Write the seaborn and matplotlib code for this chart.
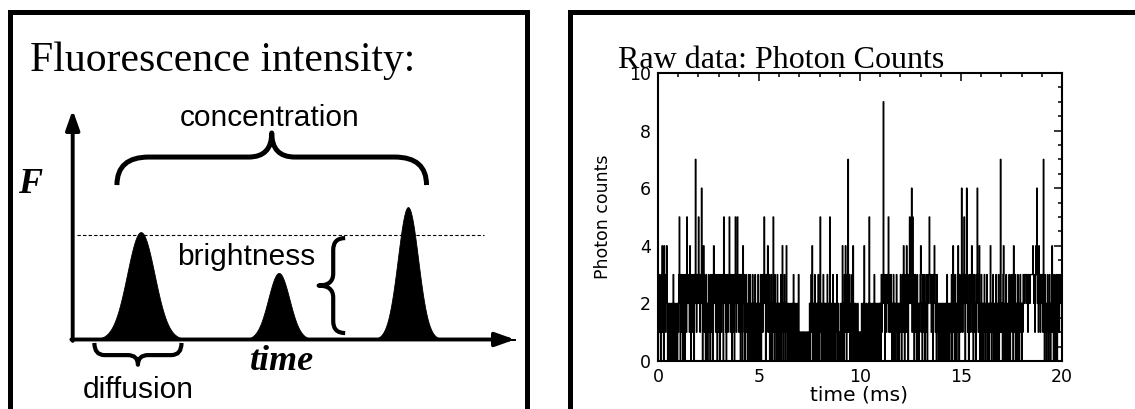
import numpy as np
import matplotlib
matplotlib.use("Agg")
import matplotlib.pyplot as plt
import seaborn as sns
from matplotlib.path import Path
from matplotlib.patches import PathPatch
from matplotlib.ticker import MultipleLocator

# ---------------- data ----------------
# schematic fluorescence bursts (time units, F units)
peak_centers = [1.54, 4.66, 7.58]
peak_heights = [0.468, 0.290, 0.577]
peak_widths = [0.31, 0.24, 0.23]
reference_level = 0.455

# photon counts per 0.025 ms bin, 0-20 ms (one row per half millisecond)
bin_width_ms = 0.025
photon_counts = [
    3, 2, 3, 1, 2, 0, 3, 2, 4, 1, 3, 0, 4, 2, 1, 3, 2, 4, 1, 0,
    2, 0, 1, 2, 0, 1, 0, 2, 1, 0, 3, 1, 0, 2, 1, 0, 1, 2, 0, 2,
    1, 3, 5, 2, 0, 3, 1, 2, 3, 0, 2, 3, 1, 0, 3, 2, 1, 5, 2, 3,
    2, 3, 1, 4, 3, 0, 2, 3, 1, 3, 2, 0, 3, 2, 7, 3, 1, 3, 2, 3,
    5, 2, 3, 1, 3, 2, 6, 3, 0, 2, 4, 3, 1, 2, 0, 3, 1, 2, 0, 1,
    3, 1, 2, 0, 3, 2, 1, 3, 0, 2, 4, 3, 2, 3, 1, 3, 2, 0, 3, 1,
    2, 3, 0, 2, 3, 1, 3, 2, 3, 0, 5, 3, 2, 3, 1, 0, 3, 2, 1, 3,
    2, 5, 3, 1, 2, 3, 0, 3, 2, 1, 3, 0, 2, 5, 3, 1, 2, 5, 3, 2,
    1, 3, 2, 0, 3, 1, 2, 0, 4, 2, 3, 1, 0, 2, 3, 1, 2, 0, 1, 3,
    2, 0, 3, 1, 2, 0, 1, 3, 2, 0, 1, 2, 3, 0, 2, 1, 0, 2, 3, 1,
    0, 2, 1, 3, 0, 2, 3, 1, 2, 3, 5, 2, 3, 0, 1, 3, 2, 4, 1, 2,
    3, 0, 2, 1, 3, 0, 2, 1, 5, 2, 0, 3, 1, 2, 0, 1, 3, 0, 2, 1,
    2, 0, 1, 3, 0, 2, 4, 1, 0, 2, 3, 1, 0, 2, 4, 1, 0, 2, 1, 0,
    1, 2, 0, 1, 0, 2, 1, 0, 3, 1, 0, 2, 1, 0, 1, 2, 0, 1, 3, 0,
    1, 0, 1, 0, 1, 1, 0, 1, 0, 1, 0, 1, 1, 0, 1, 0, 1, 0, 1, 1,
    2, 0, 1, 3, 1, 4, 0, 2, 1, 0, 3, 1, 0, 2, 1, 0, 2, 3, 0, 1,
    2, 5, 1, 0, 2, 1, 0, 3, 1, 2, 0, 1, 2, 0, 1, 3, 0, 2, 1, 0,
    5, 1, 0, 2, 1, 0, 3, 1, 0, 2, 1, 0, 2, 1, 3, 0, 1, 2, 0, 1,
    1, 0, 2, 1, 0, 4, 1, 2, 0, 3, 1, 4, 2, 0, 3, 1, 7, 2, 1, 3,
    0, 1, 2, 0, 3, 1, 4, 0, 2, 1, 0, 2, 1, 0, 1, 2, 0, 1, 0, 1,
    1, 0, 1, 2, 0, 1, 0, 2, 4, 1, 0, 1, 2, 0, 1, 0, 2, 1, 5, 0,
    1, 2, 0, 1, 0, 2, 1, 0, 3, 1, 0, 2, 0, 1, 2, 0, 1, 2, 0, 2,
    2, 0, 3, 1, 2, 3, 9, 2, 3, 0, 2, 3, 1, 2, 3, 2, 5, 1, 3, 2,
    1, 3, 2, 0, 2, 1, 3, 0, 2, 1, 0, 2, 3, 1, 0, 2, 1, 0, 2, 1,
    3, 1, 0, 2, 3, 1, 4, 2, 0, 3, 1, 2, 4, 1, 3, 0, 2, 3, 5, 2,
    3, 2, 6, 1, 5, 2, 3, 0, 2, 3, 1, 2, 0, 3, 1, 2, 0, 1, 2, 3,
    4, 1, 2, 0, 3, 2, 1, 3, 0, 2, 1, 3, 2, 0, 3, 2, 3, 5, 3, 2,
    3, 1, 3, 2, 0, 3, 2, 4, 3, 1, 2, 0, 3, 1, 2, 0, 1, 2, 0, 1,
    2, 0, 1, 2, 0, 1, 2, 0, 1, 2, 0, 1, 3, 2, 0, 1, 2, 0, 1, 2,
    1, 3, 0, 2, 4, 1, 2, 0, 3, 1, 2, 0, 1, 3, 4, 2, 0, 3, 2, 1,
    2, 6, 3, 1, 2, 3, 5, 2, 0, 3, 2, 6, 3, 1, 2, 0, 3, 2, 1, 3,
    2, 4, 1, 3, 0, 2, 3, 1, 2, 0, 3, 2, 6, 3, 1, 2, 4, 0, 2, 1,
    3, 0, 2, 1, 0, 2, 3, 1, 0, 2, 1, 3, 0, 1, 2, 0, 2, 1, 4, 2,
    0, 2, 1, 3, 0, 2, 1, 0, 2, 3, 1, 0, 2, 1, 3, 0, 2, 1, 7, 2,
    1, 2, 0, 3, 4, 1, 0, 2, 1, 3, 0, 2, 1, 0, 2, 3, 1, 0, 2, 3,
    2, 1, 3, 0, 4, 2, 1, 3, 0, 2, 1, 0, 3, 2, 1, 0, 2, 3, 1, 2,
    0, 2, 1, 3, 3, 2, 3, 3, 3, 2, 3, 3, 1, 3, 3, 3, 2, 3, 3, 3,
    3, 3, 4, 3, 2, 3, 1, 3, 4, 3, 6, 2, 3, 1, 4, 2, 3, 1, 2, 3,
    2, 3, 1, 7, 2, 0, 3, 1, 2, 0, 1, 3, 2, 0, 1, 3, 2, 0, 1, 2,
    4, 1, 2, 0, 3, 2, 1, 0, 3, 2, 0, 3, 2, 3, 1, 2, 3, 2, 3, 2,
]
x_ticks = [0, 5, 10, 15, 20]
y_ticks = [0, 2, 4, 6, 8, 10]

# ---------------- figure ----------------
sns.set_style("white")
plt.rcParams["font.family"] = ["DejaVu Sans"]
plt.rcParams["text.color"] = "black"
plt.rcParams["axes.labelcolor"] = "black"
plt.rcParams["xtick.color"] = "black"
plt.rcParams["ytick.color"] = "black"

W, H = 1135, 409
fig = plt.figure(figsize=(W / 100, H / 100), dpi=100)


def px_rect(x0, y0, x1, y1):
    """Axes rectangle from pixel corners (origin top-left)."""
    return [x0 / W, 1 - y1 / H, (x1 - x0) / W, (y1 - y0) / H]


# background layer in pixel units: panel frames and titles
ax_bg = fig.add_axes([0, 0, 1, 1])
ax_bg.set_xlim(0, W)
ax_bg.set_ylim(H, 0)
ax_bg.axis("off")
frame_kw = dict(color="black", lw=3.6, solid_joinstyle="miter", solid_capstyle="butt")
ax_bg.plot([9.5, 9.5, 526.5, 526.5], [H + 10, 11.5, 11.5, H + 10], **frame_kw)
ax_bg.plot([570, 570, W + 10], [H + 10, 12, 12], **frame_kw)

ax_bg.text(30, 71, "Fluorescence intensity:", family="Liberation Serif",
           fontsize=30, ha="left", va="baseline", color="black")
ax_bg.text(618, 68, "Raw data: Photon Counts", family="Liberation Serif",
           fontsize=23, ha="left", va="baseline", color="black")


# ---------------- schematic panel ----------------
def brace(ax, a0, a1, b_end, b_flat, b_tip, r_end, r_tip, vertical=False, lw=3.6):
    am = (a0 + a1) / 2
    pts = [(a0, b_end), (a0, b_flat), (a0 + r_end, b_flat),
           (am - r_tip, b_flat), (am, b_flat), (am, b_tip),
           (am, b_flat), (am + r_tip, b_flat),
           (a1 - r_end, b_flat), (a1, b_flat), (a1, b_end)]
    codes = [Path.MOVETO, Path.CURVE3, Path.CURVE3,
             Path.LINETO, Path.CURVE3, Path.CURVE3,
             Path.CURVE3, Path.CURVE3,
             Path.LINETO, Path.CURVE3, Path.CURVE3]
    if vertical:
        pts = [(b, a) for a, b in pts]
    ax.add_patch(PathPatch(Path(pts, codes), fill=False, ec="black", lw=lw,
                           capstyle="butt", joinstyle="round", clip_on=False))


ax_d = fig.add_axes(px_rect(72.7, 110, 515, 339.5))
ax_d.set_xlim(0, 10)
ax_d.set_ylim(0, 1)
ax_d.axis("off")

xx = np.linspace(0, 10, 2001)
for c, h, s in zip(peak_centers, peak_heights, peak_widths):
    yy = h * np.exp(-0.5 * ((xx - c) / s) ** 2)
    ax_d.fill_between(xx, 0, yy, color="black", lw=0.6, edgecolor="black")

ax_d.plot([0.1, 9.31], [reference_level, reference_level], color="black",
          lw=0.8, dashes=(3, 2))

arrow_kw = dict(arrowstyle="-|>,head_length=0.9,head_width=0.32", lw=2.8,
                color="black", shrinkA=0, shrinkB=0, mutation_scale=13)
ax_d.annotate("", xy=(0, 1), xytext=(0, -0.006), arrowprops=arrow_kw,
              annotation_clip=False)
ax_d.annotate("", xy=(10, 0), xytext=(-0.03, 0), arrowprops=arrow_kw,
              annotation_clip=False)

# concentration brace above the bursts
brace(ax_d, 1.0, 8.0, 0.673, 0.795, 0.90, 0.72, 0.52)
# brightness brace beside the middle burst
brace(ax_d, 0.442, 0.028, 6.16, 5.89, 5.56, -0.052, -0.052, vertical=True, lw=3.0)
# diffusion brace under the first burst
brace(ax_d, 0.49, 2.46, -0.015, -0.068, -0.11, 0.23, 0.23, lw=3.0)

sans = "Liberation Sans"
ax_d.text(4.46, 0.932, "concentration", family=sans, fontsize=21.5,
          ha="center", va="baseline")
ax_d.text(3.93, 0.325, "brightness", family=sans, fontsize=21.5,
          ha="center", va="baseline")
ax_d.text(1.48, -0.255, "diffusion", family=sans, fontsize=21.5,
          ha="center", va="baseline")
ax_d.text(4.73, -0.133, "time", family="Liberation Serif", style="italic",
          weight="bold", fontsize=26, ha="center", va="baseline")
ax_d.text(-0.97, 0.638, "F", family="Liberation Serif", style="italic",
          weight="bold", fontsize=26, ha="center", va="baseline")

# ---------------- photon count trace ----------------
ax = fig.add_axes(px_rect(658, 73, 1062, 361))
n_bins = len(photon_counts)
edges = np.arange(n_bins + 1) * bin_width_ms
trace_y = photon_counts + [photon_counts[-1]]
sns.lineplot(x=edges, y=trace_y, drawstyle="steps-post", color="black",
             lw=1.0, estimator=None, ax=ax)
ax.set_xlim(0, 20)
ax.set_ylim(0, 10)
ax.set_xticks(x_ticks)
ax.set_yticks(y_ticks)
ax.xaxis.set_minor_locator(MultipleLocator(1))
ax.yaxis.set_minor_locator(MultipleLocator(0.5))
ax.tick_params(which="both", direction="in", top=True, right=True,
               width=1.1, color="black", labelsize=12.5, labelcolor="black")
ax.tick_params(which="major", length=6)
ax.tick_params(which="minor", length=3)
ax.tick_params(axis="x", pad=5)
ax.tick_params(axis="y", pad=5)
ax.set_xlabel("")
ax.set_ylabel("")
for sp in ax.spines.values():
    sp.set_visible(True)
    sp.set_linewidth(1.5)
    sp.set_color("black")

ax_bg.text(859, 395, "time (ms)", fontsize=14.5, ha="center", va="center")
ax_bg.text(603, 217, "Photon counts", fontsize=12.5, rotation=90,
           ha="center", va="center")

fig.savefig("out.png", dpi=100)
